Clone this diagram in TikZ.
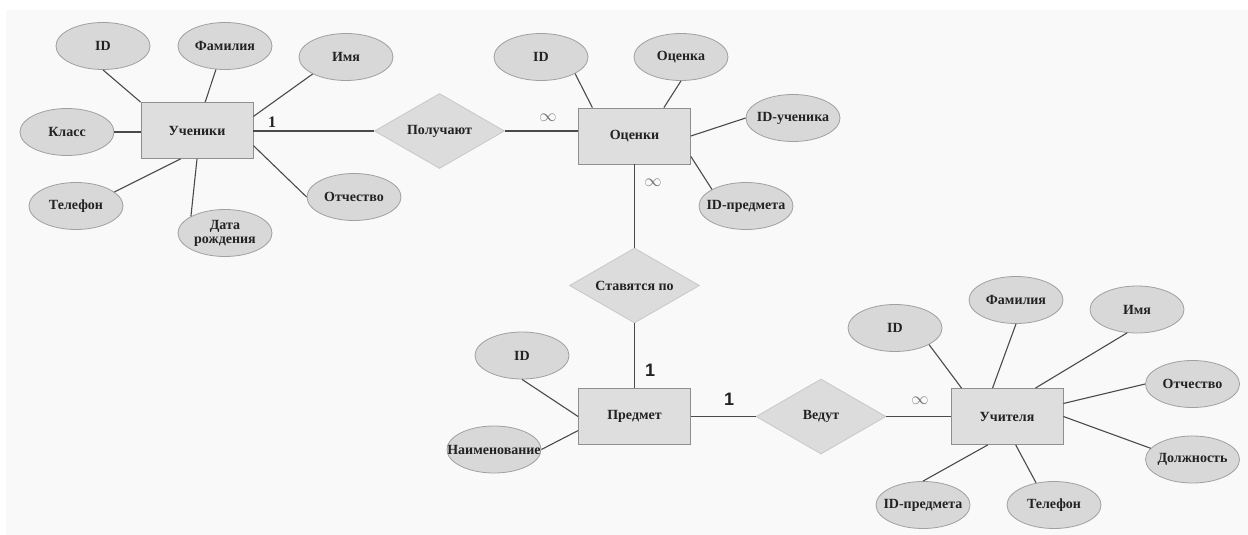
\documentclass[tikz,border=0pt]{standalone}
\usepackage{fontspec}
\setmainfont{Liberation Serif}
\newfontfamily\numfont{Liberation Sans}
\usetikzlibrary{shapes.geometric}
\definecolor{bgc}{HTML}{F9F9F9}
\definecolor{attrfill}{HTML}{D8D8D8}
\definecolor{attrline}{HTML}{A0A0A0}
\definecolor{entfill}{HTML}{DEDEDE}
\definecolor{entline}{HTML}{8F8F8F}
\definecolor{relfill}{HTML}{DCDCDC}
\definecolor{relline}{HTML}{C8C8C8}
\definecolor{conncol}{HTML}{4A4A4A}
\definecolor{txt}{HTML}{222222}
\tikzset{
  ent/.style={rectangle, draw=entline, fill=entfill, line width=0.8pt, minimum width=112pt, minimum height=56pt, inner sep=0pt, text=txt},
  attr/.style={ellipse, draw=attrline, fill=attrfill, line width=0.8pt, minimum width=94pt, minimum height=47pt, inner xsep=-18pt, inner ysep=0pt, align=center, text=txt},
  rel/.style={diamond, draw=relline, fill=relfill, line width=0.8pt, minimum width=130pt, minimum height=75pt, aspect=1.73, inner sep=0pt, text=txt},
  conn/.style={draw=conncol, line width=1.1pt},
  cardone/.style={inner sep=0pt, text=txt, font=\bfseries\fontsize{16}{18}\selectfont},
  cardbig/.style={inner sep=0pt, text=txt, font=\numfont\bfseries\fontsize{18}{20}\selectfont},
  cardinf/.style={inner sep=0pt, text=black!55, font=\fontsize{18}{20}\selectfont}
}
\begin{document}
\begin{tikzpicture}[x=1pt, y=-1pt, font=\bfseries\fontsize{14}{16}\selectfont]
\useasboundingbox (0,0) rectangle (1248,535);
\fill[bgc] (6,10) rectangle (1248,535);

% ---------- Ученики ----------
\node[ent] (u) at (197,130.5) {Ученики};
\node[attr] (uid) at (103,46) {ID};
\node[attr] (ufam) at (225,46) {Фамилия};
\node[attr] (uim) at (346,57) {Имя};
\node[attr] (ukl) at (67,132) {Класс};
\node[attr] (utel) at (76,206) {Телефон};
\node[attr] (udr) at (225,233) {Дата\\[-2pt]рождения};
\node[attr] (uot) at (354,197) {Отчество};

\draw[conn] (uid.south) -- (u.north west);
\draw[conn] (ufam.249) -- (u.74);
\draw[conn] (uim.207) -- (u.14);
\draw[conn] (ukl.east) -- (ukl.east -| u.west);
\draw[conn] (utel.20) -- (u.240);
\draw[conn] (udr.154) -- (u.south);
\draw[conn] (uot.west) -- (u.345);

% ---------- Получают ----------
\node[rel] (pol) at (439.5,131) {Получают};
\node[ent] (o) at (634.5,136) {Оценки};
\draw[conn] (u.east |- pol.west) -- (pol.west);
\draw[conn] (pol.east) -- (pol.east -| o.west);
\node[cardone] (c1) at (272,122) {1};
\node[cardinf] (c2) at (548,118) {$\infty$};

% ---------- Оценки attributes ----------
\node[attr] (oid) at (541,57) {ID};
\node[attr] (ooc) at (681,57) {Оценка};
\node[attr] (ous) at (793,118) {ID-ученика};
\node[attr] (opr) at (746,206) {ID-предмета};
\draw[conn] (oid.334) -- (o.146);
\draw[conn] (ooc.south) -- (o.44.5);
\draw[conn] (ous.west) -- (o.east);
\draw[conn] (opr.154) -- (o.340);

% ---------- Ставятся по ----------
\node[rel] (st) at (634.5,285.5) {Ставятся по};
\node[ent] (pr) at (634.5,416.5) {Предмет};
\draw[conn] (o.south) -- (st.north);
\draw[conn] (st.south) -- (pr.north);
\node[cardinf] (c3) at (653,183) {$\infty$};
\node[cardbig] (c4) at (650,370) {1};

% ---------- Предмет attributes ----------
\node[attr] (pid) at (522,355.5) {ID};
\node[attr] (pnm) at (494,449.5) {Наименование};
\draw[conn] (pid.south) -- (pr.west);
\draw[conn] (pnm.east) -- (pr.194);

% ---------- Ведут ----------
\node[rel] (ved) at (821,416.5) {Ведут};
\node[ent] (t) at (1007,416.5) {Учителя};
\draw[conn] (pr.east) -- (ved.west);
\draw[conn] (ved.east) -- (t.west);
\node[cardbig] (c5) at (729,399) {1};
\node[cardinf] (c6) at (920,401) {$\infty$};

% ---------- Учителя attributes ----------
\node[attr] (tid) at (895,328) {ID};
\node[attr] (tfam) at (1016,300) {Фамилия};
\node[attr] (tim) at (1137,309.5) {Имя};
\node[attr] (tot) at (1192.5,384) {Отчество};
\node[attr] (tdo) at (1192.5,459.5) {Должность};
\node[attr] (ttel) at (1054,505) {Телефон};
\node[attr] (tpr) at (923,505) {ID-предмета};
\draw[conn] (tid.334) -- (t.148.8);
\draw[conn] (tfam.south) -- (t.117.8);
\draw[conn] (tim.247) -- (t.45.5);
\draw[conn] (tot.west) -- (t.13.6);
\draw[conn] (tdo.165) -- (t.east);
\draw[conn] (ttel.129) -- (t.287.5);
\draw[conn] (tpr.north) -- (t.236.3);
\end{tikzpicture}
\end{document}
